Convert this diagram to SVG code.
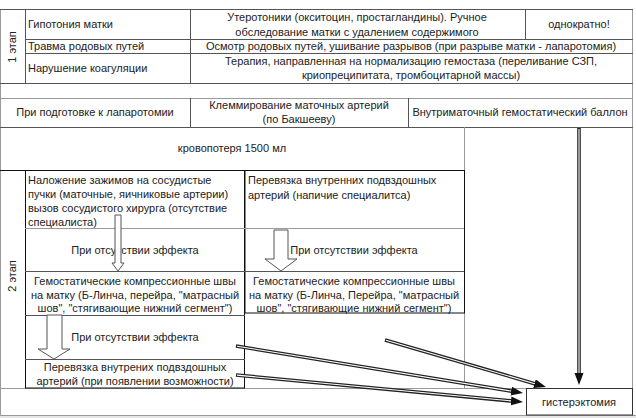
<svg xmlns="http://www.w3.org/2000/svg" width="636" height="418" viewBox="0 0 636 418">
<defs>
<style>
text{font-family:"Liberation Sans",Arial,sans-serif;font-size:11px;fill:#222}
.c{text-anchor:middle}
.g{stroke:#9a9a9a;stroke-width:1;fill:none}
.d{stroke:#555;stroke-width:1;fill:none}
.k{stroke:#111;stroke-width:1;fill:none}
.hollow{fill:#fff;stroke:#555;stroke-width:1}
.dbl-o{stroke:#222;stroke-width:3.6;fill:none}
.dbl-i{stroke:#fff;stroke-width:1.1;fill:none}
</style>
<marker id="ah" markerUnits="userSpaceOnUse" markerWidth="13" markerHeight="10" refX="2" refY="4.5" orient="auto">
<path d="M0,0 L12,4.5 L0,9 z" fill="#111"/>
</marker>
</defs>
<rect width="636" height="418" fill="#fff"/>
<rect x="0" y="415" width="636" height="3" fill="#e6e6e6"/>
<g id="frame">
<line class="g" x1="0.5" y1="9" x2="0.5" y2="415"/>
<line class="g" x1="632.5" y1="9" x2="632.5" y2="415"/>
<line class="d" x1="0" y1="9.5" x2="633" y2="9.5"/>
<line class="d" x1="0" y1="83.5" x2="633" y2="83.5"/>
<line class="g" x1="0" y1="98.5" x2="633" y2="98.5"/>
<line class="d" x1="0" y1="127.5" x2="633" y2="127.5"/>
<line class="g" x1="464.5" y1="127" x2="464.5" y2="388"/>
<line class="g" x1="0" y1="388.5" x2="526" y2="388.5"/>
<line class="g" x1="0" y1="415.5" x2="636" y2="415.5"/>
</g>
<g id="stage1">
<line class="d" x1="25.5" y1="9" x2="25.5" y2="83"/>
<line class="d" x1="190.5" y1="9" x2="190.5" y2="83"/>
<line class="d" x1="525.5" y1="9" x2="525.5" y2="39"/>
<line class="d" x1="25" y1="39.5" x2="633" y2="39.5"/>
<line class="d" x1="25" y1="53.5" x2="633" y2="53.5"/>
<text transform="translate(16,47) rotate(-90)" class="c">1 этап</text>
</g>
<g id="s1-hypotonia">
<text x="28" y="28">Гипотония матки</text>
<text x="357" y="21" class="c">Утеротоники (окситоцин, простагландины). Ручное</text>
<text x="357" y="36" class="c">обследование матки с удалением содержимого</text>
<text x="579" y="28" class="c">однократно!</text>
</g>
<g id="s1-trauma">
<text x="28" y="50">Травма родовых путей</text>
<text x="411" y="50" class="c">Осмотр родовых путей, ушивание разрывов (при разрыве матки - лапаротомия)</text>
</g>
<g id="s1-coag">
<text x="28" y="72">Нарушение коагуляции</text>
<text x="411" y="65" class="c">Терапия, направленная на нормализацию гемостаза (переливание СЗП,</text>
<text x="411" y="79" class="c">криопреципитата, тромбоцитарной массы)</text>
</g>
<g id="prep-row">
<line class="d" x1="190.5" y1="98" x2="190.5" y2="127"/>
<line class="d" x1="408.5" y1="98" x2="408.5" y2="127"/>
<text x="95" y="116" class="c">При подготовке к лапаротомии</text>
<text x="299" y="109" class="c">Клеммирование маточных артерий</text>
<text x="299" y="123" class="c">(по Бакшееву)</text>
<text x="520" y="116" class="c">Внутриматочный гемостатический баллон</text>
</g>
<g id="bloodloss">
<text x="232" y="152" class="c">кровопотеря 1500 мл</text>
</g>
<g id="stage2">
<line class="k" x1="0" y1="170.5" x2="464" y2="170.5"/>
<line class="d" x1="25.5" y1="170" x2="25.5" y2="388"/>
<text transform="translate(16,276) rotate(-90)" class="c">2 этап</text>
<rect class="k" x="25.5" y="170.5" width="219" height="217.5"/>
<rect class="k" x="245" y="170.5" width="219.5" height="142.5"/>
<line class="g" x1="25" y1="228.5" x2="464" y2="228.5"/>
<line class="d" x1="25" y1="271.5" x2="464" y2="271.5"/>
<line class="d" x1="25" y1="315.5" x2="245" y2="315.5"/>
<line class="d" x1="25" y1="359.5" x2="245" y2="359.5"/>
</g>
<g id="clamps">
<text x="28" y="184">Наложение зажимов на сосудистые</text>
<text x="28" y="198">пучки (маточные, яичниковые артерии)</text>
<text x="28" y="212">вызов сосудистого хирурга (отсутствие</text>
<text x="28" y="226">специалиста)</text>
</g>
<g id="ligation-specialist">
<text x="248" y="184">Перевязка внутренних подвздошных</text>
<text x="248" y="199">артерий (напичие специалитса)</text>
</g>
<g id="no-effect-1">
<text x="135" y="254" class="c">При отсутствии эффекта</text>
</g>
<g id="no-effect-2">
<text x="354" y="254" class="c">При отсутствии эффекта</text>
</g>
<g id="sutures-1">
<text x="135" y="285" class="c">Гемостатические компрессионные швы</text>
<text x="135" y="299" class="c">на матку (Б-Линча, перейра, "матрасный</text>
<text x="135" y="312" class="c">шов", "стягивающие нижний сегмент")</text>
</g>
<g id="sutures-2">
<text x="354" y="285" class="c">Гемостатические компрессионные швы</text>
<text x="354" y="299" class="c">на матку (Б-Линча, Перейра, "матрасный</text>
<text x="354" y="312" class="c">шов", "стягивающие нижний сегмент")</text>
</g>
<g id="no-effect-3">
<text x="135" y="341" class="c">При отсутствии эффекта</text>
</g>
<g id="ligation-possible">
<text x="135" y="371" class="c">Перевязка внутрених подвздошных</text>
<text x="135" y="385" class="c">артерий (при появлении возможности)</text>
</g>
<g id="hysterectomy">
<rect x="526.5" y="388.5" width="106" height="26.5" fill="#fff" stroke="#333"/>
<text x="579" y="406" class="c">гистерэктомия</text>
</g>
<g id="connectors">
<polygon class="hollow" points="115,215 121,215 121,263 124,263 118,271 112,263 115,263"/>
<polygon class="hollow" points="274,230 288,230 288,259 297,259 281,271 265,259 274,259"/>
<polygon class="hollow" points="47,315 62,315 62,349 70,349 54,359 38,349 47,349"/>
<path class="dbl-o" d="M579,128 L579,375"/>
<path class="dbl-i" d="M579,129 L579,375" marker-end="url(#ah)"/>
<path class="dbl-o" d="M385,340 L536.4,384.2"/>
<path class="dbl-i" d="M386,340.3 L536.4,384.2" marker-end="url(#ah)"/>
<path class="dbl-o" d="M236,346 L513.1,391.4"/>
<path class="dbl-i" d="M237,346.2 L513.1,391.4" marker-end="url(#ah)"/>
<path class="dbl-o" d="M236,375 L513,401.1"/>
<path class="dbl-i" d="M237,375.1 L513,401.1" marker-end="url(#ah)"/>
</g>
</svg>
